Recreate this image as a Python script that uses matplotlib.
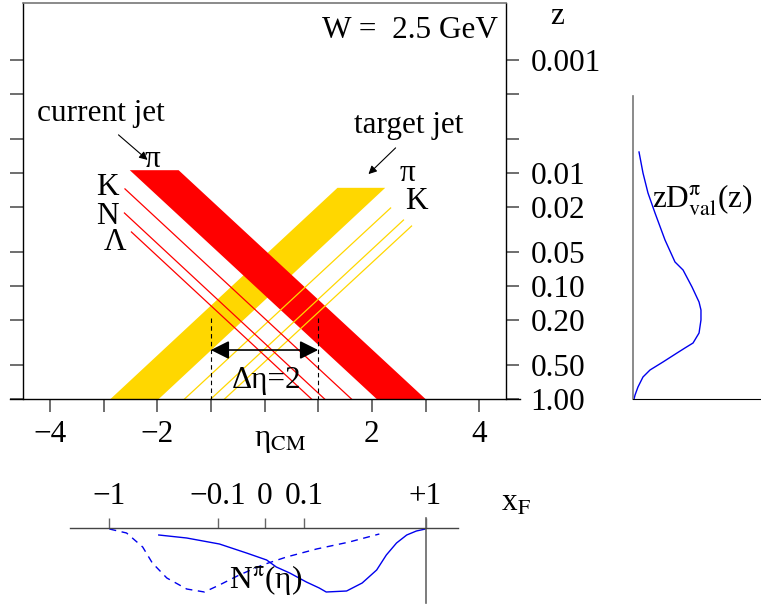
import matplotlib
matplotlib.use('Agg')
import matplotlib.pyplot as plt
import numpy as np

plt.rcParams['font.family'] = ['Liberation Serif', 'DejaVu Serif']
plt.rcParams['mathtext.fontset'] = 'stix'
FS = 22.5

# Data -----
# current jet (red) band: eta at the top z and at z = 1
cur_band_eta_top = [-2.51, -1.60]
cur_band_eta_bot = [2.09, 3.00]
cur_band_ztop = 0.0095
# target jet (yellow) band
tgt_band_eta_top = [1.36, 2.25]
tgt_band_eta_bot = [-2.87, -1.97]
tgt_band_ztop = 0.0136

# thin lines for K, N, Lambda (current) and K... (target)
cur_lines_eta_start = [-2.60, -2.61, -2.48]
cur_lines_z_start = [0.0139, 0.0227, 0.0334]
cur_lines_eta_end = [1.62, 1.12, 0.875]
tgt_lines_eta_start = [2.35, 2.59, 2.74]
tgt_lines_z_start = [0.0205, 0.0262, 0.0296]
tgt_lines_eta_end = [-1.49, -1.00, -0.745]

z_ticks = [0.001, 0.002, 0.005, 0.01, 0.02, 0.05, 0.1, 0.2, 0.5, 1.0]
z_ticklabels = ['0.001', '', '', '0.01', '0.02', '0.05', '0.10', '0.20', '0.50', '1.00']
eta_ticks = [-4, -3, -2, -1, 0, 1, 2, 3, 4]
eta_ticklabels = ['\u22124', '', '\u22122', '', '', '', '2', '', '4']

# zD^pi_val(z) curve
zd_val = [0.047, 0.078, 0.117, 0.172, 0.25, 0.328, 0.391, 0.461, 0.516, 0.531,
          0.531, 0.516, 0.469, 0.406, 0.344, 0.234, 0.133, 0.078, 0.039, 0.016, 0.008]
zd_z = [0.00656, 0.01005, 0.0151, 0.0227, 0.0393, 0.0615, 0.0724, 0.1023, 0.139, 0.1634,
        0.2003, 0.261, 0.320, 0.354, 0.392, 0.471, 0.554, 0.639, 0.783, 0.922, 1.0]

# N^pi(eta) curves (bottom panel, arbitrary units)
n_solid_eta = [-1.97, -1.45, -0.84, -0.335, 0.04, 0.22, 0.47, 0.78, 1.02, 1.15,
               1.53, 1.82, 2.09, 2.27, 2.46, 2.65, 2.83, 3.0]
n_solid_val = [-7, -10, -16, -25, -32, -39, -45, -54, -60, -64,
               -63, -55, -42, -27, -15, -7, -3, -1]
n_dash_eta = [-2.89, -2.57, -2.27, -2.09, -1.82, -1.45, -1.12, -0.84, -0.47, -0.04,
              0.41, 0.97, 1.58, 2.14]
n_dash_val = [-1, -5, -19, -35, -50, -61, -64, -57, -47, -37, -29, -21, -14, -6]

xf_ticks_eta = [-2.89, -0.875, 0.0, 0.745, 3.0]
xf_ticklabels = ['\u22121', '\u22120.1', '0', '0.1', '+1']

# Figure -----
fig = plt.figure(figsize=(7.61, 6.07), dpi=100)
ax = fig.add_axes([23/761, 1-399/607, 483/761, 396/607])
ax.set_yscale('log')
ax.set_xlim(-4.5, 4.5)
ax.set_ylim(1.0, 10**-3.5)

# target jet
ax.fill([tgt_band_eta_bot[0], tgt_band_eta_bot[1], tgt_band_eta_top[1], tgt_band_eta_top[0]],
        [1, 1, tgt_band_ztop, tgt_band_ztop], color='#FFD700', lw=0)
for e0, z0, e1 in zip(tgt_lines_eta_start, tgt_lines_z_start, tgt_lines_eta_end):
    ax.plot([e0, e1], [z0, 1], color='#FFD700', lw=0.9)
for e0, z0, e1 in zip(cur_lines_eta_start, cur_lines_z_start, cur_lines_eta_end):
    ax.plot([e0, e1], [z0, 1], color='red', lw=0.9)
# current jet
ax.fill([cur_band_eta_top[0], cur_band_eta_top[1], cur_band_eta_bot[1], cur_band_eta_bot[0]],
        [cur_band_ztop, cur_band_ztop, 1, 1], color='red', lw=0)

# labels
ax.text(-2.09, 0.0077, '\u03c0', fontsize=FS, ha='center', va='center')
ax.text(-2.92, 0.0134, 'K', fontsize=FS, ha='center', va='center')
ax.text(-2.92, 0.0246, 'N', fontsize=FS, ha='center', va='center')
ax.text(-2.79, 0.0418, '\u039b', fontsize=FS, ha='center', va='center')
ax.text(2.66, 0.0102, '\u03c0', fontsize=FS, ha='center', va='center')
ax.text(2.83, 0.0180, 'K', fontsize=FS, ha='center', va='center')
ax.text(-3.04, 0.00297, 'current jet', fontsize=FS, ha='center', va='center')
ax.text(2.68, 0.00379, 'target jet', fontsize=FS, ha='center', va='center')
ax.text(4.36, 0.00055, 'W =  2.5 GeV', fontsize=FS, ha='right', va='center')
ax.annotate('', xy=(-2.14, 0.0080), xytext=(-2.76, 0.00446),
            arrowprops=dict(arrowstyle='-|>', color='black', lw=0.8, mutation_scale=12))
ax.annotate('', xy=(1.90, 0.0107), xytext=(2.48, 0.0058),
            arrowprops=dict(arrowstyle='-|>', color='black', lw=0.8, mutation_scale=12))

# delta eta
for e in (-1, 1):
    ax.plot([e, e], [0.192, 1], color='black', ls=(0, (4, 3)), lw=0.8)
ax.annotate('', xy=(-1, 0.369), xytext=(1, 0.369),
            arrowprops=dict(arrowstyle='<|-|>', color='black', lw=1.2, mutation_scale=28,
                            shrinkA=0, shrinkB=0))
ax.text(0.04, 0.69, '\u0394\u03b7=2', fontsize=FS, ha='center', va='center')

# axes styling
ax.set_xticks(eta_ticks)
ax.set_xticklabels(eta_ticklabels)
ax.set_yticks(z_ticks)
ax.set_yticklabels(z_ticklabels)
ax.yaxis.set_minor_locator(matplotlib.ticker.NullLocator())
ax.tick_params(axis='x', direction='out', length=9, width=1.2, color='#555555',
               labelsize=FS, pad=6)
ax.tick_params(axis='y', direction='out', length=9.5, width=1.2, color='#555555',
               left=True, right=True, labelleft=False, labelright=True, labelsize=FS, pad=8)
ax.spines['bottom'].set_visible(False)
ax.spines['top'].set_color('#777777')
ax.spines['top'].set_linewidth(1.2)
for s in ('left', 'right'):
    ax.spines[s].set_linewidth(1.0)
ax.plot([-0.027, 1.029], [0, 0], transform=ax.transAxes, clip_on=False, color='black', lw=1.0)
ax.annotate('\u03b7$_{\\mathrm{CM}}$', xy=(0.3, -0.105), xycoords=('data', 'axes fraction'),
            fontsize=FS, ha='center', va='center')
ax.text(1.106, 0.965, 'z', transform=ax.transAxes, fontsize=FS, ha='center', va='center')

# right panel: fragmentation function
ax2 = fig.add_axes([633/761, 1-399/607, 128/761, 396/607])
ax2.set_yscale('log')
ax2.set_ylim(1.0, 10**-3.5)
ax2.set_xlim(0, 1)
ax2.plot(zd_val, zd_z, color='#0000EE', lw=1.0)
ax2.set_xticks([])
ax2.set_yticks([])
ax2.yaxis.set_minor_locator(matplotlib.ticker.NullLocator())
ax2.spines['top'].set_visible(False)
ax2.spines['right'].set_visible(False)
ax2.spines['left'].set_bounds(1.0, 0.0021)
ax2.spines['left'].set_color('#777777')
ax2.spines['left'].set_linewidth(1.2)
ax2.spines['bottom'].set_linewidth(0.8)
ax2.patch.set_alpha(0)
ax2.text(0.54, 0.0174, 'zD$^{\\mathrm{\u03c0}}_{\\mathrm{val}}$(z)', fontsize=FS,
         ha='center', va='center')

# bottom panel: N^pi(eta) vs x_F
ax3 = fig.add_axes([23/761, 0, 483/761, 140/607])
ax3.set_xlim(-4.5, 4.5)
ax3.set_ylim(-79, 61)
ax3.plot(n_solid_eta, n_solid_val, color='#0000EE', lw=1.0)
ax3.plot(n_dash_eta, n_dash_val, color='#0000EE', lw=1.0, ls=(0, (5, 4)))
ax3.plot([xf_ticks_eta[-1], xf_ticks_eta[-1]], [10, -75], color='#666666', lw=1.2)
for s in ('left', 'right', 'bottom'):
    ax3.spines[s].set_visible(False)
ax3.spines['top'].set_position(('data', 0))
ax3.spines['top'].set_bounds(-3.63, 3.61)
ax3.spines['top'].set_color('#444444')
ax3.spines['top'].set_linewidth(1.0)
ax3.xaxis.tick_top()
ax3.set_xticks(xf_ticks_eta)
ax3.set_xticklabels(xf_ticklabels)
ax3.set_yticks([])
ax3.tick_params(axis='x', direction='out', length=7, width=1.0, color='#666666',
                labelsize=FS, pad=5)
ax3.patch.set_alpha(0)
ax3.text(4.69, 25, 'x$_{\\mathrm{F}}$', fontsize=FS, ha='center', va='center')
ax3.text(0.02, -52, 'N$^{\\mathrm{\u03c0}}$(\u03b7)', fontsize=FS, ha='center', va='center')

fig.savefig('out.png', dpi=100)
